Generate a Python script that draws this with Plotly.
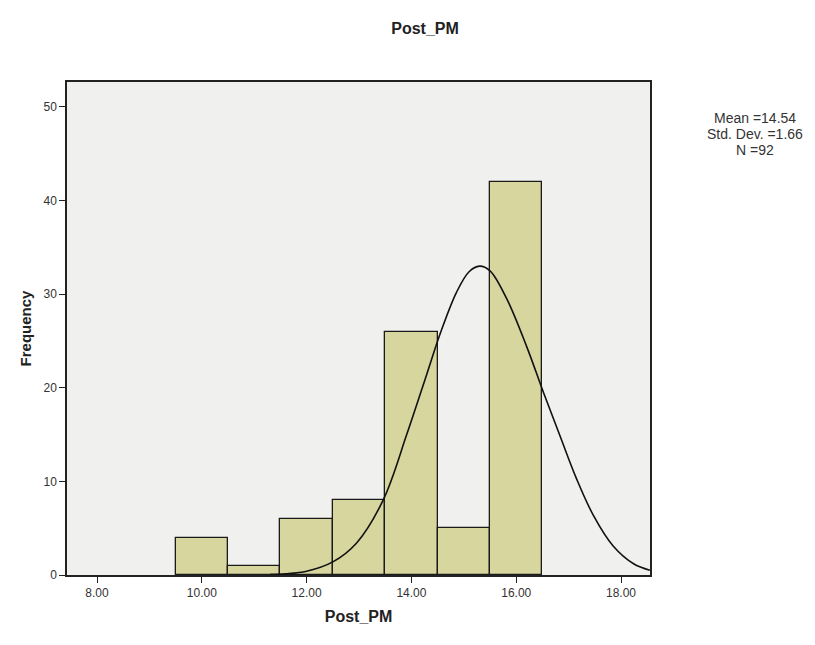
import plotly.graph_objects as go

# Data
bin_centers = [10, 11, 12, 13, 14, 15, 16]
frequencies = [4, 1, 6, 8, 26, 5, 42]

curve_x = [11.3, 11.6, 12.0, 12.5, 12.95, 13.46, 13.91, 14.29, 14.55, 14.86, 15.1, 15.3,
           15.5, 15.82, 16.2, 16.52, 16.84, 17.15, 17.47, 17.85, 18.24, 18.55]
curve_y = [0.05, 0.12, 0.4, 1.4, 3.4, 8.0, 15.0, 21.4, 25.8, 30.2, 32.4, 33.0,
           32.5, 29.5, 24.4, 19.5, 14.8, 10.3, 6.4, 3.1, 1.2, 0.5]

stats_lines = ["Mean =14.54", "Std. Dev. =1.66", "N =92"]

fig = go.Figure()
fig.add_trace(go.Bar(
    x=bin_centers, y=frequencies, width=1.0,
    marker=dict(color="#d8d69f", line=dict(color="#1a1a1a", width=1.3)),
    hoverinfo="x+y", showlegend=False,
))
fig.add_trace(go.Scatter(
    x=curve_x, y=curve_y, mode="lines",
    line=dict(color="#111111", width=1.6, shape="spline", smoothing=1.0),
    showlegend=False, hoverinfo="skip",
))

axis_font = dict(family="Liberation Sans, Arial, sans-serif", size=12, color="#333333")

fig.update_layout(
    width=815, height=645,
    margin=dict(l=67, r=165, t=82, b=70),
    paper_bgcolor="white",
    plot_bgcolor="#f0f0ee",
    bargap=0,
    font=dict(family="Liberation Sans, Arial, sans-serif", color="#222222"),
    xaxis=dict(
        range=[7.427, 18.553], tickmode="linear", tick0=8, dtick=2, tickformat=".2f",
        showgrid=False, zeroline=False, showline=True, linecolor="#222222", linewidth=1.5,
        mirror=True, ticks="outside", ticklen=6, tickcolor="#222222", tickfont=axis_font,
        title=dict(text="<b>Post_PM</b>", font=dict(size=16, color="#222222"), standoff=12),
    ),
    yaxis=dict(
        range=[0, 52.67], tickmode="linear", tick0=0, dtick=10,
        showgrid=False, zeroline=False, showline=True, linecolor="#222222", linewidth=1.5,
        mirror=True, ticks="outside", ticklen=6, tickcolor="#222222", tickfont=axis_font,
        title=dict(text="<b>Frequency</b>", font=dict(size=15, color="#222222"), standoff=8),
    ),
    title=dict(text="<b>Post_PM</b>", x=425 / 815, xanchor="center", y=1 - 28 / 645,
               yanchor="middle", font=dict(size=16, color="#222222")),
)

for i, line in enumerate(stats_lines):
    fig.add_annotation(
        x=(755 - 67) / 583, y=(575 - (118 + 16 * i)) / 493, xref="paper", yref="paper",
        xanchor="center", yanchor="middle", showarrow=False,
        text=line, font=dict(size=14, color="#333333"),
    )

fig.write_html("out.html")
